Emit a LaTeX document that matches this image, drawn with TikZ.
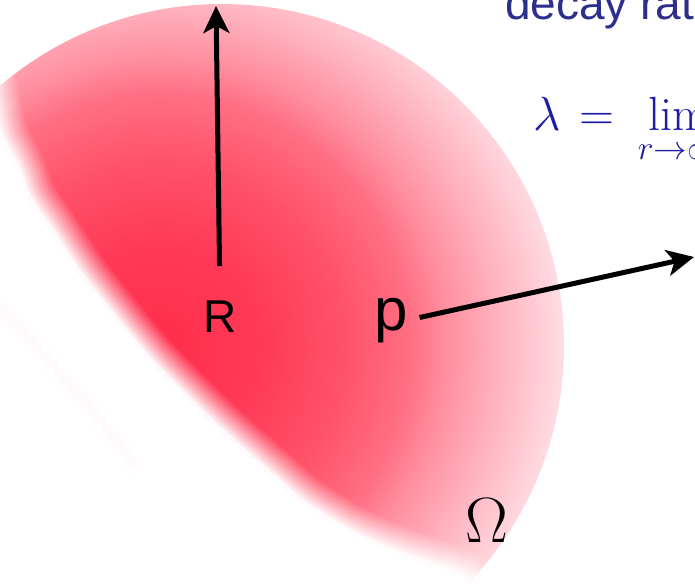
\RequirePackage{fix-cm}
\documentclass[tikz,border=0pt]{standalone}
\usepackage{fontspec}
\newfontfamily\helv{Liberation Sans}
\DeclareFontShape{OMX}{cmex}{m}{n}{<->cmex10}{}
\usepackage{xcolor}
\definecolor{blobA}{RGB}{255,45,75}
\definecolor{blobB}{RGB}{255,58,88}
\definecolor{blobC}{RGB}{255,82,106}
\definecolor{blobD}{RGB}{255,112,132}
\definecolor{blobE}{RGB}{255,142,158}
\definecolor{blobF}{RGB}{255,182,194}
\definecolor{blobG}{RGB}{255,220,226}
\definecolor{blobH}{RGB}{255,230,235}
\definecolor{decayblue}{RGB}{44,48,140}
\definecolor{mathblue}{RGB}{28,28,165}
\usepackage{tikz}
\usetikzlibrary{arrows.meta}
\pgfdeclareradialshading{blob}{\pgfpoint{0bp}{0bp}}{color(0bp)=(blobA); color(6bp)=(blobB); color(11bp)=(blobC); color(15bp)=(blobD); color(17bp)=(blobE); color(20.5bp)=(blobF); color(24bp)=(blobG); color(25bp)=(blobH); color(50bp)=(blobH)}
% terminator of the lit region (soft edge)
\newcommand\termpath{plot[smooth, tension=0.5] coordinates {(-20,40) (-12,78) (-1,131) (16,165) (29,198) (50,229) (80,274) (114,317) (148,358) (182,393) (219,429) (272,476) (306,505) (357,536) (409,558) (459,576) (486,596) (520,615)}}

\begin{document}
\begin{tikzpicture}[x=1pt, y=-1pt,
    vecarrow/.style={line width=5pt, -{Stealth[length=27pt, width=26pt, inset=7pt]}},
    lbl/.style={inner sep=0pt, font=\helv}]
    \useasboundingbox (0,0) rectangle (695,585);
    \clip (0,0) rectangle (695,585);

    % Omega, shaded
    \begin{scope}
        \clip (222,346) circle (342);
        \clip \termpath -- (800,700) -- (800,-100) -- (-100,-100) -- cycle;
        \shade[shading=blob] (160,345) circle (420);
        \foreach \i in {1,...,16} {
            \pgfmathsetmacro\op{1/(17-\i)}
            \pgfmathsetmacro\lw{56*(17-\i)/16}
            \draw[white, opacity=\op, line width=\lw pt] \termpath;
        }
    \end{scope}

    % faint ghost rim
    \draw[blobA, opacity=0.012, line width=20pt, line cap=round] plot[smooth] coordinates {(-5,302) (50,362) (100,420) (135,465)};
    \draw[blobA, opacity=0.012, line width=9pt, line cap=round] plot[smooth] coordinates {(-5,302) (50,362) (100,420) (135,465)};

    % Labels
    \node[lbl, anchor=base, font=\helv\fontsize{46}{46}\selectfont] (R) at (220,332) {R};
    \node[lbl, anchor=base, font=\helv\fontsize{60}{60}\selectfont] (p) at (391,330) {p};
    \node[lbl, font=\fontsize{64}{64}\selectfont] (omega) at (487,521) {$\Omega$};

    % Arrows
    \coordinate (Rtip) at (216,6);
    \coordinate (ptip) at (694,257);
    \draw[vecarrow, shorten <=34pt] (R.north) -- (Rtip);
    \draw[vecarrow, shorten <=12pt] (p.east) -- (ptip);

    % Text at the top right
    \node[lbl, anchor=base west, text=decayblue, font=\helv\fontsize{46}{46}\selectfont] (decay) at (505,20) {decay rate};
    \node[lbl, anchor=base west, text=mathblue, font=\fontsize{48}{48}\selectfont] (lam) at (533,131) {$\displaystyle\lambda \mkern2mu = \mkern4mu \lim_{r\to\infty}$};
\end{tikzpicture}
\end{document}
